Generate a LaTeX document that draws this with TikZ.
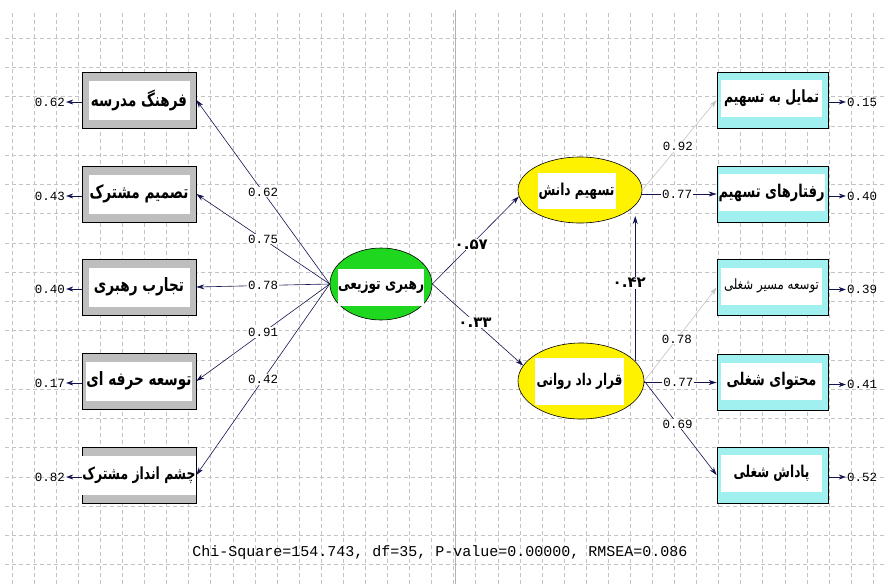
\documentclass[tikz,border=0pt]{standalone}
\usepackage{fontspec}
\usepackage{graphicx}
\usetikzlibrary{arrows.meta,shapes.geometric,calc}
\TeXXeTstate=1
\newfontfamily\arabicfont[Script=Arabic]{DejaVu Sans}
\newfontfamily\monofont{Liberation Mono}
\newcommand\fatext[2]{\scalebox{1}[1.35]{\resizebox{#1pt}{!}{\arabicfont\bfseries #2}}}
\newcommand\fatextn[2]{\scalebox{1}[1.2]{\resizebox{#1pt}{!}{\arabicfont #2}}}
\definecolor{gridc}{RGB}{195,195,195}
\definecolor{navyl}{RGB}{20,20,80}
\definecolor{framegray}{RGB}{190,190,190}
\definecolor{cyanf}{RGB}{160,240,240}
\definecolor{greenf}{RGB}{30,215,30}
\definecolor{lgray}{RGB}{195,195,195}
\begin{document}
\begin{tikzpicture}[x=1pt,y=-1pt,
 grayb/.style={draw=black, fill=framegray, minimum width=114pt, minimum height=56pt, inner sep=0pt, line width=0.8pt},
 cyanb/.style={draw=black, fill=cyanf, minimum width=111pt, minimum height=56pt, inner sep=0pt, line width=0.8pt},
 inwhite/.style={fill=white, inner sep=0pt},
 lat/.style={ellipse, draw=black, line width=0.6pt, inner sep=0pt},
 arr/.style={draw=navyl, line width=0.6pt, -{Stealth[length=8pt,width=5pt]}},
 garr/.style={draw=lgray, line width=0.6pt, -{Stealth[length=8pt,width=5pt]}},
 earr/.style={draw=navyl, line width=0.6pt, -{Stealth[length=7pt,width=5pt]}},
 num/.style={font=\monofont\fontsize{12.5}{14}\selectfont, inner sep=1pt},
 lab/.style={num, fill=white},
 plab/.style={font=\arabicfont\bfseries\fontsize{15}{16}\selectfont, fill=white, inner sep=1pt}
]
\useasboundingbox (0,0) rectangle (885,584);
\fill[white] (0,0) rectangle (885,584);
\foreach \k in {0,...,39} \draw[gridc, dash pattern=on 4pt off 3pt, line width=0.5pt] ({12+22.08*\k},13) -- ({12+22.08*\k},584);
\foreach \k in {0,...,18} \draw[gridc, dash pattern=on 4pt off 3pt, line width=0.5pt] (5,{38+29.25*\k}) -- (885,{38+29.25*\k});
\draw[black!30, line width=0.8pt] (455,10) -- (455,584);

% left indicator boxes
\node[grayb] (l1) at (139,100) {};
\node[inwhite, minimum width=101pt, minimum height=39pt] at (l1) {\fatext{96}{\beginR فرهنگ مدرسه\endR}};
\node[grayb] (l2) at (139,194) {};
\node[inwhite, minimum width=101pt, minimum height=39pt] at (l2) {\fatext{99}{\beginR تصمیم مشترک\endR}};
\node[grayb] (l3) at (139,287) {};
\node[inwhite, minimum width=101pt, minimum height=39pt] at (l3) {\fatext{90}{\beginR تجارب رهبری\endR}};
\node[grayb] (l4) at (139,381) {};
\node[inwhite, minimum width=101pt, minimum height=39pt] at (l4) {\fatext{105}{\beginR توسعه حرفه ای\endR}};
\node[grayb] (l5) at (139,475) {};
\node[inwhite, minimum width=101pt, minimum height=39pt] at (l5) {\fatext{113}{\beginR چشم انداز مشترک\endR}};

% latent variables
\node[lat, fill=greenf, minimum width=102pt, minimum height=72pt] (g) at (381,284) {};
\node[inwhite, minimum width=86pt, minimum height=37pt] at ([yshift=-3pt]g.center) {\fatext{86}{\beginR رهبری توزیعی\endR}};
\node[lat, fill=yellow, minimum width=124pt, minimum height=66pt] (t) at (580,190) {};
\node[inwhite, minimum width=78pt, minimum height=36pt] at ([xshift=-3.5pt,yshift=-1pt]t.center) {\fatext{76}{\beginR تسهیم دانش\endR}};
\node[lat, fill=yellow, minimum width=126pt, minimum height=76pt] (q) at (581,381) {};
\node[inwhite, minimum width=89pt, minimum height=47pt] at ([xshift=-1.5pt]q.center) {\fatext{86}{\beginR قرار داد روانی\endR}};

% right indicator boxes
\node[cyanb] (r1) at (772.5,100) {};
\node[inwhite, minimum width=101pt, minimum height=37pt] at ([shift={(-1,-1.5)}]r1.center) {\fatext{95}{\beginR تمایل به تسهیم\endR}};
\node[cyanb] (r2) at (772.5,194) {};
\node[inwhite, minimum width=101pt, minimum height=37pt] at ([shift={(-1,-1.5)}]r2.center) {\fatext{106}{\beginR رفتارهای تسهیم\endR}};
\node[cyanb] (r3) at (772.5,287.5) {};
\node[inwhite, minimum width=101pt, minimum height=37pt] at ([shift={(-1,-1.5)}]r3.center) {\fatextn{95}{\beginR توسعه مسیر شغلی\endR}};
\node[cyanb] (r4) at (772.5,382.5) {};
\node[inwhite, minimum width=101pt, minimum height=37pt] at ([shift={(-1,-1.5)}]r4.center) {\fatext{90}{\beginR محتوای شغلی\endR}};
\node[cyanb] (r5) at (772.5,475) {};
\node[inwhite, minimum width=101pt, minimum height=37pt] at ([shift={(-1,-1.5)}]r5.center) {\fatext{76}{\beginR پاداش شغلی\endR}};

% loadings of the exogenous factor
\draw[arr] (g.west) -- node[lab,pos=0.5]{0.62} (l1.east);
\draw[arr] (g.west) -- node[lab,pos=0.5]{0.75} (l2.east);
\draw[arr] (g.west) -- node[lab,pos=0.5]{0.78} (l3.east);
\draw[arr] (g.west) -- node[lab,pos=0.5]{0.91} (l4.east);
\draw[arr] (g.west) -- node[lab,pos=0.5]{0.42} (l5.east);

% structural paths
\draw[arr] (g.east) -- node[plab,pos=0.45]{۰.۵۷} (t.186);
\draw[arr] (g.east) -- node[plab,pos=0.47]{۰.۳۳} (q.165);
\coordinate (tb) at ($(t.center)+(57,26)$);
\draw[arr] (q.20) -- node[plab,pos=0.54,xshift=-6pt]{۰.۴۲} (q.20 |- tb);

% loadings of endogenous factors
\draw[garr] (t.east) -- node[lab,pos=0.48]{0.92} (r1.west);
\draw[arr] (t.east |- r2.west) -- node[lab,pos=0.47]{0.77} (r2.west);
\draw[garr] (q.east) -- node[lab,pos=0.45]{0.78} (r3.west);
\draw[arr] (q.east |- r4.west) -- node[lab,pos=0.47]{0.77} (r4.west);
\draw[arr] (q.east) -- node[lab,pos=0.46]{0.69} (r5.west);

% error variances
\node[num] (e1) at (50,102) {0.62};
\node[num] (e2) at (50,196) {0.43};
\node[num] (e3) at (50,289) {0.40};
\node[num] (e4) at (50,383) {0.17};
\node[num] (e5) at (50,477) {0.82};
\foreach \i in {1,...,5} \draw[earr] (l\i.west |- e\i.east) -- (e\i.east);
\node[num] (f1) at (862,102) {0.15};
\node[num] (f2) at (862,196) {0.40};
\node[num] (f3) at (862,289.5) {0.39};
\node[num] (f4) at (862,384.5) {0.41};
\node[num] (f5) at (862,477) {0.52};
\foreach \i in {1,...,5} \draw[earr] (r\i.east |- f\i.west) -- (f\i.west);

\node[font=\monofont\fontsize{15}{17}\selectfont, inner sep=0pt] (chi) at (440,553) {Chi-Square=154.743, df=35, P-value=0.00000, RMSEA=0.086};
\end{tikzpicture}
\end{document}
